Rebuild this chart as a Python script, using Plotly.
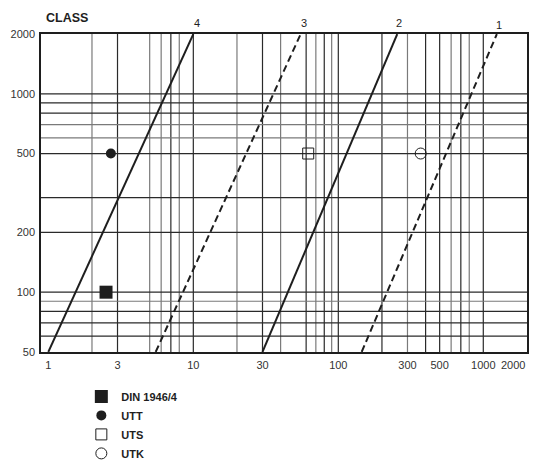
import math
import plotly.graph_objects as go

# ---------------- data ----------------
x_tick_vals = [1, 3, 10, 30, 100, 300, 500, 1000, 2000]
x_tick_text = ["1", "3", "10", "30", "100", "300", "500", "1000", "2000"]
y_tick_vals = [50, 100, 200, 500, 1000, 2000]
y_tick_text = ["50", "100", "200", "500", "1000", "2000"]

x_grid_dark = [3, 7, 10, 30, 60, 80, 100, 200, 400, 500, 700, 1000]
x_grid_light = [2, 5, 6, 8, 20, 40, 70, 90, 300, 600, 800]
y_grid_dark = [60, 70, 80, 100, 200, 300, 500, 800, 900, 1000]
y_grid_light = [90, 600, 700]

# class lines: x at y=50 and at y=2000
class_names = ["4", "3", "2", "1"]
class_x_bottom = [1, 5.5, 30, 145]
class_x_top = [10, 55, 255, 1240]
class_y = [50, 2000]
class_dashed = [False, True, False, True]

point_names = ["DIN 1946/4", "UTT", "UTS", "UTK"]
point_x = [2.5, 2.7, 62, 370]
point_y = [100, 500, 500, 500]

FONT = "Liberation Sans, Arial, sans-serif"
INK = "#1e1e1e"
TICK = "#333333"

fig = go.Figure()

for name, xb, xt, dashed in zip(class_names, class_x_bottom, class_x_top, class_dashed):
    fig.add_trace(go.Scatter(
        x=[xb, xt], y=class_y, mode="lines", showlegend=False, hoverinfo="skip",
        line=dict(color=INK, width=2, dash="7px,4px" if dashed else "solid"),
    ))

marker_styles = [
    dict(symbol="square", size=13, color=INK, line=dict(color=INK, width=0)),
    dict(symbol="circle", size=10, color=INK, line=dict(color=INK, width=0)),
    dict(symbol="square-open", size=11, color=INK, line=dict(color=INK, width=1)),
    dict(symbol="circle-open", size=11, color=INK, line=dict(color=INK, width=1)),
]
for name, px, py, ms in zip(point_names, point_x, point_y, marker_styles):
    fig.add_trace(go.Scatter(x=[px], y=[py], mode="markers", name=name, marker=ms))

shapes = []
for v in x_grid_dark:
    shapes.append(dict(type="line", xref="x", yref="paper", x0=v, x1=v, y0=0, y1=1,
                       line=dict(color="#2a2a2a", width=1.2), layer="below"))
for v in x_grid_light:
    shapes.append(dict(type="line", xref="x", yref="paper", x0=v, x1=v, y0=0, y1=1,
                       line=dict(color="#7a7a7a", width=1.2), layer="below"))
for v in y_grid_dark:
    shapes.append(dict(type="line", xref="paper", yref="y", x0=0, x1=1, y0=v, y1=v,
                       line=dict(color="#2a2a2a", width=1.2), layer="below"))
for v in y_grid_light:
    shapes.append(dict(type="line", xref="paper", yref="y", x0=0, x1=1, y0=v, y1=v,
                       line=dict(color="#7a7a7a", width=1.2), layer="below"))

annotations = []
shifts = [(4, 3), (3, 3), (2, 3), (2, 1)]
for name, xt, (dx, dy) in zip(class_names, class_x_top, shifts):
    annotations.append(dict(x=math.log10(xt), y=math.log10(2000), xref="x", yref="y",
                            text=name, showarrow=False, xanchor="center", yanchor="bottom",
                            xshift=dx, yshift=dy, font=dict(family=FONT, size=11, color=INK)))
annotations.append(dict(x=0.0535, y=1.05, xref="paper", yref="paper", text="<b>CLASS</b>",
                        showarrow=False, xanchor="center", yanchor="middle",
                        font=dict(family=FONT, size=12.5, color=INK)))
# last x tick label is drawn right-aligned at the frame corner, as in the source
annotations.append(dict(x=math.log10(x_tick_vals[-1]), y=0, xref="x", yref="paper",
                        text=x_tick_text[-1], showarrow=False, xanchor="right", yanchor="top",
                        yshift=-5, font=dict(family=FONT, size=11, color=TICK)))

fig.update_layout(
    width=538, height=461,
    margin=dict(l=41, r=11, t=34, b=109, autoexpand=False),
    paper_bgcolor="white", plot_bgcolor="white",
    font=dict(family=FONT, size=11, color=INK),
    shapes=shapes, annotations=annotations,
    showlegend=True,
    legend=dict(x=0.083, y=-0.094, xanchor="left", yanchor="top",
                font=dict(family=FONT, size=11, color=INK, weight="bold"),
                bgcolor="rgba(0,0,0,0)", itemclick=False, itemdoubleclick=False),
)
fig.update_xaxes(type="log", range=[math.log10(0.89), math.log10(2002)],
                 tickmode="array", tickvals=x_tick_vals[:-1], ticktext=x_tick_text[:-1],
                 showgrid=False, zeroline=False, ticks="", ticklabelstandoff=2,
                 showline=True, mirror=True, linecolor=INK, linewidth=1.5,
                 tickfont=dict(family=FONT, size=11, color=TICK))
fig.update_yaxes(type="log", range=[math.log10(49.95), math.log10(2002)],
                 tickmode="array", tickvals=y_tick_vals, ticktext=y_tick_text,
                 showgrid=False, zeroline=False, ticks="", ticklabelstandoff=2,
                 showline=True, mirror=True, linecolor=INK, linewidth=1.5,
                 tickfont=dict(family=FONT, size=11, color=TICK))

fig.write_html("out.html", config={"displayModeBar": False},
               post_script="document.body.style.margin='0';document.body.style.overflow='hidden';")
